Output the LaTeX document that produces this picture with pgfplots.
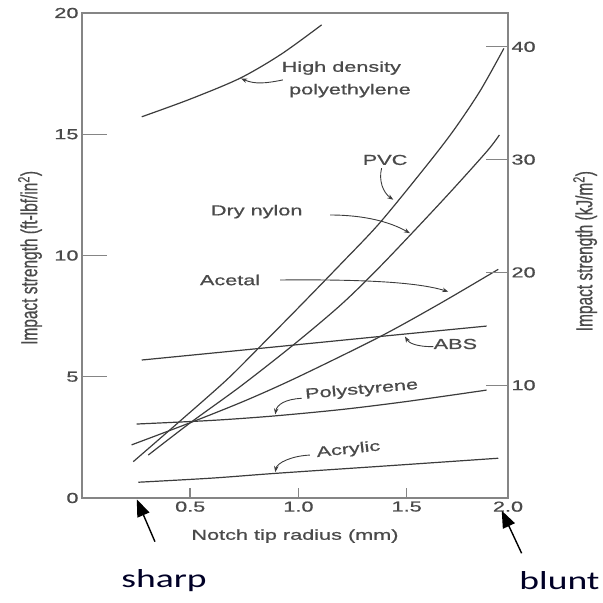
\documentclass[border=0pt]{standalone}
\usepackage{fontspec}
\setmainfont{Liberation Sans}[FakeBold=0.6]
\newfontfamily\lbl{Liberation Sans}[FakeStretch=1.5,FakeBold=0.8]
\newfontfamily\carl{Carlito}[FakeStretch=1.45]
\usepackage{pgfplots}
\pgfplotsset{compat=1.18}
\usetikzlibrary{arrows.meta}
\definecolor{txt}{HTML}{4A4A4A}
\definecolor{crv}{HTML}{3C3C3C}
\definecolor{axc}{HTML}{858585}
\newcommand{\lf}{\lbl\fontsize{14.5}{16}\selectfont}
\pgfplotsset{crvline/.style={crv, solid, line width=1.2bp, smooth, tension=0.5, mark=none}}
\begin{document}
\begin{tikzpicture}
\begin{axis}[scale only axis, width=426bp, height=485bp,
  xmin=0, xmax=1.968, ymin=0, ymax=20,
  xtick={0.5,1,1.5,1.968}, xticklabels={0.5,1.0,1.5,2.0},
  ytick={0,5,10,15,20},
  xtick pos=left, ytick pos=left,
  tick align=inside,
  major tick length=10bp,
  xtick style={axc, line width=1.6bp},
  ytick style={axc, line width=1.3bp, /pgfplots/major tick length=25bp},
  axis line style={axc, line width=1.5bp},
  ticklabel style={font=\lf, text=txt},
  /pgf/number format/assume math mode=true,
  xlabel={Notch tip radius (mm)},
  xlabel style={at={(axis description cs:0.5,-0.0784)}, anchor=center, font=\lf, text=txt},
  ylabel={\scalebox{1}[1.5]{Impact strength (ft-lbf/in\textsuperscript{2})}},
  ylabel style={at={(axis description cs:-0.122,0.495)}, anchor=center, font=\fontsize{15.5}{17}\selectfont, text=txt},
  clip=false,
]
\coordinate (O) at (rel axis cs:0,0);
% x tick marks (inward, short)
\draw[axc, line width=1.6bp] (axis cs:0.5,0) -- ++(0,10bp);
\draw[axc, line width=1.6bp] (axis cs:1.0,0) -- ++(0,10bp);
\draw[axc, line width=1.6bp] (axis cs:1.5,0) -- ++(0,10bp);
% High density polyethylene
\addplot[crvline] coordinates {(0.276,15.72) (0.5,16.45) (0.73,17.31) (0.92,18.3) (1.107,19.51)};
% PVC
\addplot[crvline] coordinates {(0.237,1.50) (0.45,3.15) (0.668,4.87) (0.822,6.24) (1.0,7.85) (1.199,9.68) (1.376,11.35) (1.6,13.8) (1.72,15.2) (1.84,16.8) (1.949,18.54)};
% Dry nylon
\addplot[crvline] coordinates {(0.306,1.77) (0.5,3.1) (0.73,4.59) (0.976,6.31) (1.2,8.0) (1.392,9.68) (1.669,12.3) (1.869,14.28) (1.928,14.97)};
% Acetal
\addplot[crvline] coordinates {(0.229,2.19) (0.513,3.15) (0.761,4.04) (1.0,5.0) (1.376,6.65) (1.65,8.0) (1.923,9.43)};
% ABS
\addplot[crvline] coordinates {(0.276,5.69) (0.8,6.15) (1.376,6.66) (1.869,7.09)};
% Polystyrene
\addplot[crvline] coordinates {(0.252,3.05) (0.6,3.2) (0.883,3.38) (1.2,3.65) (1.5,3.98) (1.869,4.45)};
% Acrylic
\addplot[crvline] coordinates {(0.26,0.65) (0.6,0.82) (0.9,1.02) (1.4,1.32) (1.923,1.64)};

% annotations
\begin{scope}[font=\lf, text=txt]
\node at (axis cs:1.198,17.73) {High density};
\node at (axis cs:1.238,16.80) {polyethylene};
\node at (axis cs:1.40,13.94) {PVC};
\node at (axis cs:0.807,11.81) {Dry nylon};
\node at (axis cs:0.684,8.99) {Acetal};
\node at (axis cs:1.725,6.35) {ABS};
\node[rotate=5] at (axis cs:1.292,4.45) {Polystyrene};
\node[rotate=6] at (axis cs:1.231,1.98) {Acrylic};
\end{scope}
\begin{scope}[crv, line width=0.9bp, -{Stealth[length=6bp,width=4.5bp]}]
\draw (axis cs:0.928,17.24) .. controls (axis cs:0.85,17.1) and (axis cs:0.80,17.05) .. (axis cs:0.735,17.30);
\draw (axis cs:1.384,13.60) .. controls (axis cs:1.37,13.1) and (axis cs:1.39,12.6) .. (axis cs:1.438,12.30);
\draw (axis cs:1.146,11.67) .. controls (axis cs:1.30,11.67) and (axis cs:1.42,11.4) .. (axis cs:1.515,10.92);
\draw (axis cs:0.915,8.99) .. controls (axis cs:1.30,9.02) and (axis cs:1.55,8.9) .. (axis cs:1.692,8.51);
\draw (axis cs:1.623,6.24) .. controls (axis cs:1.54,6.24) and (axis cs:1.51,6.4) .. (axis cs:1.492,6.66);
\draw (axis cs:1.015,4.11) .. controls (axis cs:0.94,4.08) and (axis cs:0.90,3.85) .. (axis cs:0.893,3.45);
\draw (axis cs:1.053,1.77) .. controls (axis cs:0.97,1.74) and (axis cs:0.90,1.45) .. (axis cs:0.893,1.07);
\end{scope}
% sharp / blunt
\draw[black, line width=1.4bp, -{Triangle[length=17bp,width=13bp]}] (axis cs:0.337,-1.80) -- (axis cs:0.253,-0.06);
\draw[black, line width=1.4bp, -{Triangle[length=17bp,width=13bp]}] (axis cs:2.031,-2.28) -- (axis cs:1.939,-0.52);
\node[font=\carl\fontsize{26}{30}\selectfont, anchor=base, text={black!85!blue}] at (axis cs:0.379,-3.71) {sharp};
\node[font=\carl\fontsize{26}{30}\selectfont, anchor=base, text={black!85!blue}] at (axis cs:2.206,-3.79) {blunt};
\end{axis}
\begin{axis}[scale only axis, width=426bp, height=485bp,
  xmin=0, xmax=1.968, ymin=0, ymax=43,
  axis x line=none, axis y line*=right,
  ytick={10,20,30,40},
  tick align=inside,
  major tick length=22bp,
  axis line style={axc, line width=1.5bp},
  tick style={axc, line width=1.3bp},
  ticklabel style={font=\lf, text=txt},
  /pgf/number format/assume math mode=true,
  ylabel={\scalebox{1}[1.5]{Impact strength (kJ/m\textsuperscript{2})}},
  ylabel style={at={(axis description cs:1.181,0.509)}, anchor=center, font=\fontsize{15.5}{17}\selectfont, text=txt},
]
\addplot[draw=none] coordinates {(0,0) (1,1)};
\end{axis}
\pgfresetboundingbox
\path (O) ++(-82bp,-105bp) rectangle ++(603bp,603bp);
\end{tikzpicture}
\end{document}
